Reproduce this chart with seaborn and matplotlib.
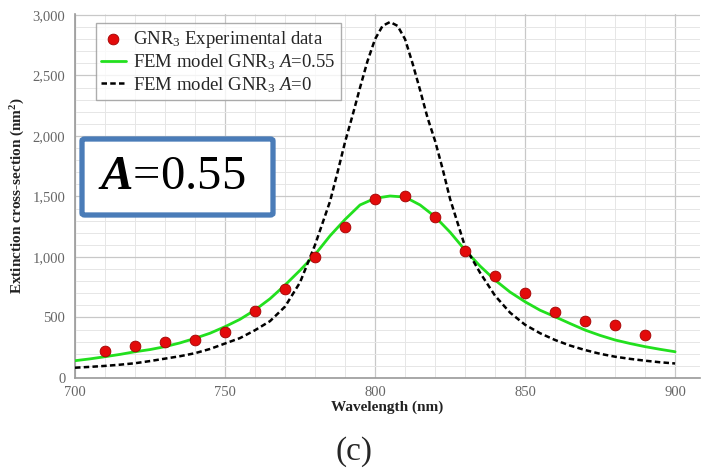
import numpy as np
import pandas as pd
import matplotlib
matplotlib.use("Agg")
import matplotlib.pyplot as plt
import seaborn as sns
from matplotlib.ticker import MultipleLocator, FuncFormatter
from matplotlib.patches import FancyBboxPatch

# ---- data ----
exp_wl = [710, 720, 730, 740, 750, 760, 770, 780, 790, 800,
          810, 820, 830, 840, 850, 860, 870, 880, 890]
exp_val = [225, 264, 300, 311, 383, 553, 733, 997, 1245, 1478,
           1500, 1327, 1052, 843, 702, 545, 473, 440, 355]

a055_wl = [700, 705, 710, 715, 720, 725, 730, 735, 740, 745, 750, 755, 760, 765,
           770, 775, 780, 785, 790, 795, 800, 805, 810, 815, 820, 825, 830, 835,
           840, 845, 850, 855, 860, 865, 870, 875, 880, 885, 890, 895, 900]
fem_055 = [143, 158, 176, 195, 217, 235, 259, 290, 328, 370, 424, 485, 562, 655,
           768, 890, 1020, 1175, 1310, 1430, 1485, 1504, 1495, 1430, 1333, 1205, 1057, 925,
           809, 710, 630, 560, 506, 450, 396, 352, 314, 285, 259, 237, 217]

a0_wl = [700, 705, 710, 715, 720, 725, 730, 735, 740, 745, 750, 755, 760, 765,
         770, 775, 780, 785, 787.5, 790, 792.5, 795, 797.5, 800, 802.5, 805, 807.5,
         810, 812.5, 815, 817.5, 820, 822.5, 825, 830, 835,
         840, 845, 850, 855, 860, 865, 870, 875, 880, 885, 890, 895, 900]
fem_0 = [85, 92, 100, 110, 122, 140, 160, 180, 205, 240, 285, 330, 395, 470,
         590, 790, 1100, 1460, 1700, 1950, 2170, 2400, 2620, 2800, 2910, 2942, 2910,
         2800, 2600, 2380, 2150, 1960, 1730, 1480, 1085, 870,
         680, 540, 440, 370, 314, 268, 231, 200, 176, 158, 143, 130, 120]

df_exp = pd.DataFrame({"wl": exp_wl, "val": exp_val})
df_a055 = pd.DataFrame({"wl": a055_wl, "val": fem_055})
df_a0 = pd.DataFrame({"wl": a0_wl, "val": fem_0})

# ---- style ----
sns.set_style("white")
plt.rcParams["font.family"] = ["Liberation Serif", "DejaVu Serif"]
plt.rcParams["mathtext.fontset"] = "custom"
plt.rcParams["mathtext.rm"] = "Liberation Serif"
plt.rcParams["mathtext.it"] = "Liberation Serif:italic"
plt.rcParams["mathtext.bf"] = "Liberation Serif:bold"
plt.rcParams["mathtext.bfit"] = "Liberation Serif:bold:italic"

fig = plt.figure(figsize=(7.08, 4.75), dpi=100)
ax = fig.add_axes([75/708, 1-378/475, 625/708, 364/475])

sns.lineplot(data=df_a055, x="wl", y="val", ax=ax, color="#22e01e", lw=2.0,
             label=r"FEM model GNR$_3$ $A$=0.55", zorder=3)
sns.lineplot(data=df_a0, x="wl", y="val", ax=ax, color="black", lw=1.8,
             linestyle=(0, (2.2, 1.3)), label=r"FEM model GNR$_3$ $A$=0", zorder=4)
sns.scatterplot(data=df_exp, x="wl", y="val", ax=ax, color="#e30b0b", edgecolor="#a00000",
                linewidth=0.6, s=60, label=r"GNR$_3$ Experimental data", zorder=5)

ax.set_xlim(700, 908.3)
ax.set_ylim(0, 3008)
ax.xaxis.set_major_locator(MultipleLocator(50))
ax.xaxis.set_minor_locator(MultipleLocator(10))
ax.yaxis.set_major_locator(MultipleLocator(500))
ax.yaxis.set_minor_locator(MultipleLocator(100))
ax.yaxis.set_major_formatter(FuncFormatter(lambda v, p: f"{int(v):,}"))
ax.grid(which="major", color="#c8c8c8", lw=0.9)
ax.grid(which="minor", color="#e6e6e6", lw=0.7)
ax.set_axisbelow(True)

for s in ["top", "right"]:
    ax.spines[s].set_visible(False)
for s in ["left", "bottom"]:
    ax.spines[s].set_color("#9a9a9a")
    ax.spines[s].set_linewidth(1.2)

ax.tick_params(axis="both", which="major", direction="out", length=5, width=0.8,
               color="#9a9a9a", labelsize=10.5, labelcolor="#666666", pad=2)
ax.tick_params(axis="both", which="minor", direction="out", length=3, width=0.6,
               color="#9a9a9a")
ax.tick_params(axis="x", which="minor", length=0)
ax.tick_params(axis="x", which="major", length=0, pad=6)

ax.set_xlabel("Wavelength (nm)", fontsize=11, fontweight="bold", color="#222222", labelpad=1)
ax.set_ylabel("Extinction cross-section (nm$^\\mathbf{2}$)", fontsize=11, fontweight="bold",
              color="#222222", labelpad=4)

# legend ordering: scatter, green, dashed
h, l = ax.get_legend_handles_labels()
order = [2, 0, 1]
leg = ax.legend([h[i] for i in order], [l[i] for i in order], loc="upper left",
                bbox_to_anchor=(0.033, 0.975), fontsize=13.5, frameon=True, fancybox=False,
                edgecolor="#999999", handlelength=1.3, handletextpad=0.4,
                borderpad=0.3, labelspacing=0.15, borderaxespad=0)
leg.get_frame().set_linewidth(1.0)

# A=0.55 box
box = FancyBboxPatch((82/708, 1-215/475), 191/708, 76/475, transform=fig.transFigure,
                     boxstyle="round,pad=0,rounding_size=0.004", facecolor="white",
                     edgecolor="#4a7cb8", lw=3.8, zorder=10)
fig.patches.append(box)
fig.text(172/708, 1-177/475, r"$\mathbfit{A}$=0.55", fontsize=35,
         ha="center", va="center", color="black", zorder=11)

fig.text(0.5, 1-452/475, "(c)", fontsize=24, ha="center", va="center")

fig.savefig("out.png", dpi=100)
